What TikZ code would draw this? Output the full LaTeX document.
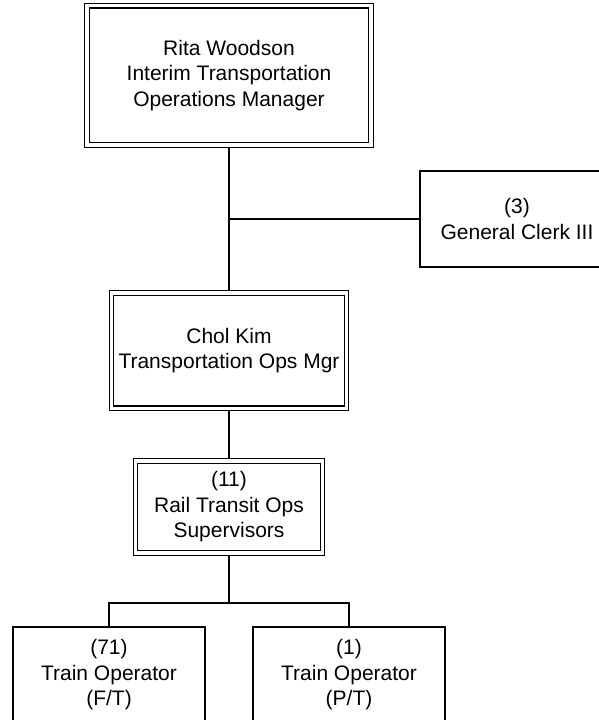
\documentclass[tikz,border=0pt]{standalone}
\usepackage{fontspec}
\setmainfont{Liberation Sans}
\usetikzlibrary{calc,positioning}

\begin{document}
\begin{tikzpicture}[
 x=1pt, y=-1pt,
 mgr/.style={draw, line width=1.2pt, double, double distance=3.5pt, outer sep=2.95pt,
 inner sep=0pt, align=center, font=\fontsize{21}{25.5}\selectfont,
 minimum width=#1},
 unit/.style={draw, line width=1.5pt, inner sep=0pt, align=center,
 font=\fontsize{21}{25.5}\selectfont, minimum width=#1, minimum height=96pt},
 link/.style={line width=1.6pt}
]
\useasboundingbox (0,0) rectangle (599,720);
\clip (0,0) rectangle (599,720);

% Root
\node[mgr=283.7pt, minimum height=139.2pt] (rita) at (229,75.25)
 {Rita Woodson\\Interim Transportation\\Operations Manager};

% Staff
\node[unit=194pt] (clerk) at (517,219) {(3)\\General Clerk III};

% Level 1
\node[mgr=235pt, minimum height=115.5pt] (chol) at (229,350.6)
 {Chol Kim\\Transportation Ops Mgr};

% Level 2
\node[mgr=187pt, minimum height=92pt] (rail) at (229,507)
 {(11)\\Rail Transit Ops\\Supervisors};

% Level 3
\node[unit=192pt] (opft) at (109,675) {(71)\\Train Operator\\(F/T)};
\node[unit=192pt] (oppt) at (349,675) {(1)\\Train Operator\\(P/T)};

% Connectors
\coordinate (br) at (229,219);
\coordinate (bar) at (229,603);
\draw[link] (rita) -- (chol);
\draw[link] (br) -- (clerk.west);
\draw[link] (chol) -- (rail);
\draw[link] (rail) -- (bar);
\draw[link] (opft.north) |- (bar) -| (oppt.north);
\end{tikzpicture}
\end{document}
